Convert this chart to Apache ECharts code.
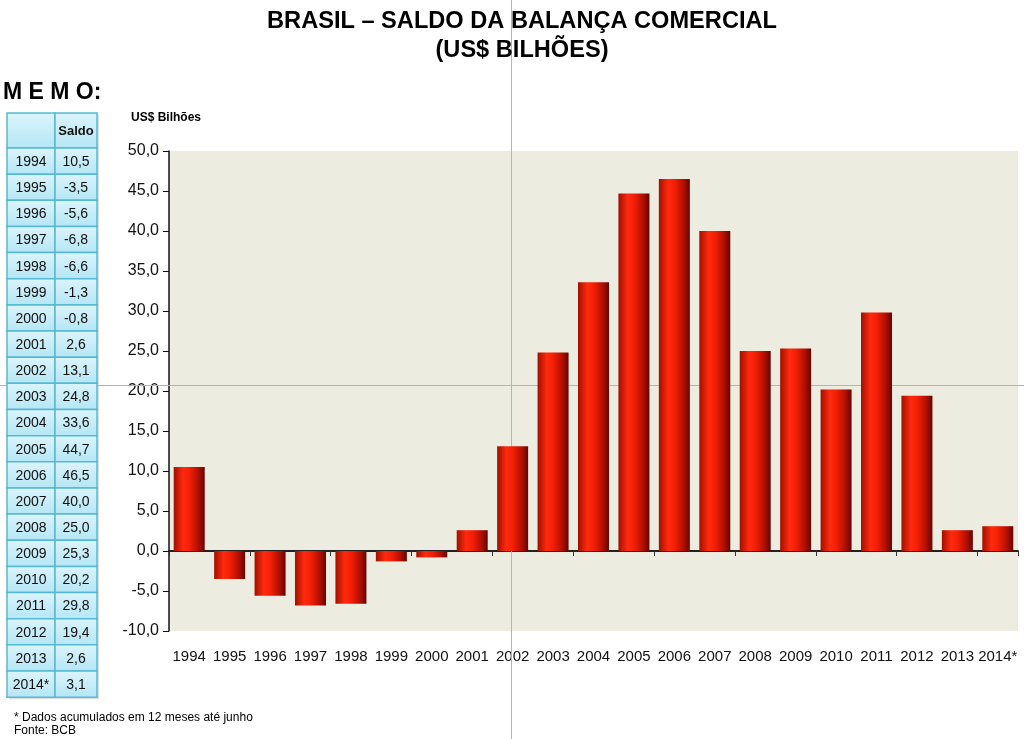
<!DOCTYPE html>
<html><head><meta charset="utf-8">
<script src="https://cdn.jsdelivr.net/npm/echarts@6/dist/echarts.min.js"></script>
<style>html,body{margin:0;padding:0;background:#fff}#c{width:1024px;height:739px}</style>
</head><body><div id="c"></div>
<script>
const years = ['1994','1995','1996','1997','1998','1999','2000','2001','2002','2003','2004','2005','2006','2007','2008','2009','2010','2011','2012','2013','2014*'];
const saldo = [10.5,-3.5,-5.6,-6.8,-6.6,-1.3,-0.8,2.6,13.1,24.8,33.6,44.7,46.5,40.0,25.0,25.3,20.2,29.8,19.4,2.6,3.1];
const yTicks = {min:-10, max:50, interval:5};

const fmt = v => v.toFixed(1).replace('.', ',');
const chart = echarts.init(document.getElementById('c'), null, {renderer:'canvas'});
const FF = '"Liberation Sans", Arial, sans-serif';

// memo table built from the arrays
const tbl = [];
const tx0 = 7, tx1 = 55, tx2 = 97, headTop = 113, headH = 35, rowH = 26.15;
const cellFill = {type:'linear',x:0,y:0,x2:0,y2:1,colorStops:[{offset:0,color:'#dcf4fb'},{offset:1,color:'#b4e6f5'}]};
const bStroke = '#55b9d3';
tbl.push({type:'rect', shape:{x:tx0+2, y:headTop+2, width:tx2-tx0, height:headH+rowH*years.length}, style:{fill:'rgba(0,0,0,0.12)'}, z:1});
tbl.push({type:'rect', shape:{x:tx0, y:headTop, width:tx1-tx0, height:headH}, style:{fill:cellFill, stroke:bStroke, lineWidth:1.5}, z:2});
tbl.push({type:'rect', shape:{x:tx1, y:headTop, width:tx2-tx1, height:headH}, style:{fill:cellFill, stroke:bStroke, lineWidth:1.5}, z:2});
tbl.push({type:'text', x:(tx1+tx2)/2, y:headTop+headH/2+1, style:{text:'Saldo', font:'bold 13px '+FF, fill:'#111', align:'center', verticalAlign:'middle'}, z:3});
years.forEach((y,i)=>{
  const top = headTop + headH + i*rowH;
  tbl.push({type:'rect', shape:{x:tx0, y:top, width:tx1-tx0, height:rowH}, style:{fill:cellFill, stroke:bStroke, lineWidth:1.5}, z:2});
  tbl.push({type:'rect', shape:{x:tx1, y:top, width:tx2-tx1, height:rowH}, style:{fill:cellFill, stroke:bStroke, lineWidth:1.5}, z:2});
  tbl.push({type:'text', x:(tx0+tx1)/2, y:top+rowH/2+1, style:{text:y, font:'14px '+FF, fill:'#111', align:'center', verticalAlign:'middle'}, z:3});
  tbl.push({type:'text', x:(tx1+tx2)/2, y:top+rowH/2+1, style:{text:fmt(saldo[i]), font:'14px '+FF, fill:'#111', align:'center', verticalAlign:'middle'}, z:3});
});

const barGrad = {type:'linear',x:0,y:0,x2:1,y2:0,colorStops:[
  {offset:0,color:'#a01000'},{offset:0.3,color:'#ff2a0e'},{offset:0.5,color:'#f51f06'},{offset:0.8,color:'#b00f00'},{offset:1,color:'#640500'}]};

chart.setOption({
  animation:false,
  title:[
    {text:'BRASIL – SALDO DA BALANÇA COMERCIAL', left:517, top:4, textAlign:'center',
     textStyle:{fontFamily:FF, fontWeight:'bold', fontSize:23.6, color:'#000'}},
    {text:'(US$ BILHÕES)', left:517, top:33, textAlign:'center',
     textStyle:{fontFamily:FF, fontWeight:'bold', fontSize:23.6, color:'#000'}}
  ],
  grid:{left:169, right:6, top:151, bottom:108, show:true, backgroundColor:'#ecede0', borderWidth:0},
  xAxis:[
    {type:'category', data:years, position:'bottom', axisLine:{show:false, onZero:false}, axisTick:{show:false},
     axisLabel:{fontSize:15, color:'#111', margin:18, fontFamily:FF, interval:0}},
    {type:'category', data:years, position:'top', axisLine:{show:true, onZero:true, lineStyle:{color:'#222', width:2}},
     axisTick:{show:true, inside:true, length:5, lineStyle:{color:'#333'}}, axisLabel:{show:false}}
  ],
  yAxis:{type:'value', min:yTicks.min, max:yTicks.max, interval:yTicks.interval,
    axisLine:{show:true, lineStyle:{color:'#111', width:1.5}}, axisTick:{show:true, length:6, lineStyle:{color:'#111'}},
    splitLine:{show:false},
    axisLabel:{formatter:fmt, fontSize:16, color:'#111', margin:10, fontFamily:FF}},
  series:[{type:'bar', data:saldo, xAxisIndex:0, barWidth:31, itemStyle:{color:barGrad}, z:3}],
  graphic:[
    {type:'text', left:3, top:81, style:{text:'M E M O:', font:'bold 23px '+FF, fill:'#000'}},
    {type:'text', left:131, top:112, style:{text:'US$ Bilhões', font:'bold 12px '+FF, fill:'#000'}},
    {type:'text', left:14, top:712, style:{text:'* Dados acumulados em 12 meses até junho', font:'12px '+FF, fill:'#000'}},
    {type:'text', left:14, top:725, style:{text:'Fonte: BCB', font:'12px '+FF, fill:'#000'}},
    {type:'group', children:tbl, z:2},
    {type:'rect', shape:{x:511,y:0,width:1,height:739}, style:{fill:'rgb(90,215,235)'}, z:1, silent:true},
    {type:'rect', shape:{x:0,y:385,width:1024,height:1}, style:{fill:'rgb(90,215,235)'}, z:1, silent:true}
  ]
});
</script></body></html>
